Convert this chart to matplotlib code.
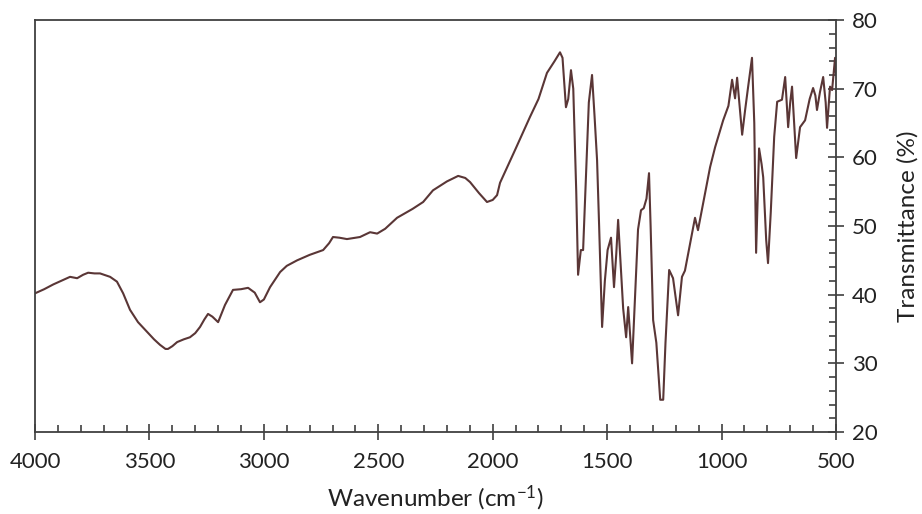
import matplotlib
matplotlib.use("Agg")
import matplotlib.pyplot as plt
from matplotlib.ticker import MultipleLocator

plt.rcParams['font.family'] = ['Lato', 'DejaVu Sans']
plt.rcParams['mathtext.default'] = 'regular'

# FTIR spectrum
wavenumber = [
    4000, 3960, 3920, 3880, 3847, 3816, 3790, 3768, 3740, 3716, 3690, 3672,
    3642, 3615, 3585, 3550, 3511, 3480, 3454, 3430, 3419, 3400, 3379, 3350,
    3323, 3300, 3279, 3260, 3244, 3225, 3200, 3170, 3135, 3100, 3069, 3040,
    3017, 3000, 2973, 2929, 2900, 2855, 2800, 2741, 2715, 2698, 2670, 2637,
    2600, 2580, 2536, 2505, 2470, 2418, 2350, 2304, 2261, 2200, 2151, 2120,
    2099, 2060, 2025, 2000, 1981, 1968, 1902, 1837, 1800, 1763, 1730, 1706,
    1695, 1680, 1670, 1658, 1648, 1635, 1627, 1615, 1605, 1595, 1580, 1566,
    1555, 1544, 1535, 1522, 1510, 1498, 1483, 1470, 1460, 1452, 1440, 1430,
    1417, 1408, 1391, 1375, 1365, 1352, 1340, 1328, 1317, 1310, 1299, 1285,
    1268, 1255, 1245, 1229, 1212, 1200, 1190, 1173, 1160, 1140, 1116, 1103,
    1072, 1050, 1028, 993, 970, 954, 941, 932, 920, 910, 897, 885,
    867, 857, 849, 840, 836, 825, 818, 805, 797, 785, 770, 757,
    736, 722, 709, 700, 692, 674, 657, 635, 615, 600, 590, 583,
    570, 556, 545, 539, 526, 517, 504, 500,
]
transmittance = [
    40.2, 40.8, 41.5, 42.1, 42.6, 42.4, 42.9, 43.2, 43.1, 43.1, 42.8, 42.6,
    41.9, 40.2, 37.8, 36.0, 34.6, 33.5, 32.7, 32.1, 32.1, 32.5, 33.1, 33.5,
    33.8, 34.4, 35.3, 36.4, 37.2, 36.8, 36.0, 38.5, 40.7, 40.8, 41.0, 40.3,
    38.9, 39.3, 41.1, 43.3, 44.2, 45.0, 45.8, 46.5, 47.5, 48.4, 48.3, 48.1,
    48.3, 48.4, 49.1, 48.9, 49.6, 51.2, 52.5, 53.5, 55.2, 56.5, 57.3, 57.0,
    56.4, 54.8, 53.5, 53.8, 54.5, 56.3, 61.1, 65.9, 68.5, 72.3, 74.0, 75.3,
    74.5, 67.3, 68.5, 72.7, 70.0, 55.0, 42.9, 46.5, 46.5, 55.0, 68.0, 72.0,
    66.0, 59.6, 50.0, 35.3, 42.0, 46.5, 48.3, 41.1, 46.0, 50.9, 44.0, 38.0,
    33.8, 38.2, 30.0, 42.0, 49.5, 52.3, 52.6, 54.0, 57.7, 50.0, 36.3, 33.0,
    24.7, 24.7, 33.0, 43.6, 42.4, 39.5, 37.0, 42.6, 43.5, 47.0, 51.2, 49.4,
    54.8, 58.6, 61.5, 65.4, 67.5, 71.3, 68.6, 71.6, 67.0, 63.3, 66.9, 70.0,
    74.5, 65.0, 46.1, 57.0, 61.3, 59.0, 57.1, 48.0, 44.6, 52.0, 63.0, 68.1,
    68.4, 71.7, 64.4, 68.0, 70.3, 59.9, 64.4, 65.4, 68.5, 70.1, 69.0, 66.9,
    69.5, 71.7, 68.0, 64.3, 70.3, 69.8, 74.5, 72.0,
]

fig = plt.figure(figsize=(9.22, 5.14), dpi=100)
ax = fig.add_axes([0.038, 0.1595, 0.8687, 0.8015])

ax.plot(wavenumber, transmittance, color='#5a3636', linewidth=1.5)

ax.set_xlim(4000, 500)
ax.set_ylim(20, 80)

ax.xaxis.set_major_locator(MultipleLocator(500))
ax.xaxis.set_minor_locator(MultipleLocator(100))
ax.yaxis.set_major_locator(MultipleLocator(10))
ax.yaxis.set_minor_locator(MultipleLocator(2))

ax.yaxis.tick_right()
ax.yaxis.set_label_position('right')

for s in ax.spines.values():
    s.set_color('#404040')
    s.set_linewidth(1.3)

ax.tick_params(axis='both', which='major', direction='inout', length=11,
               width=1.2, color='#404040', labelsize=16, labelcolor='#222222')
ax.tick_params(axis='both', which='minor', direction='in', length=5,
               width=1.2, color='#404040')
ax.tick_params(axis='x', which='major', pad=9)
ax.tick_params(axis='y', which='major', pad=6)

ax.set_xlabel('Wavenumber (cm$^{-1}$)', fontsize=17.5, color='#222222', labelpad=8)
ax.set_ylabel('Transmittance (%)', fontsize=17.5, color='#222222', labelpad=14)

fig.savefig('out.png', dpi=100, facecolor='white')
